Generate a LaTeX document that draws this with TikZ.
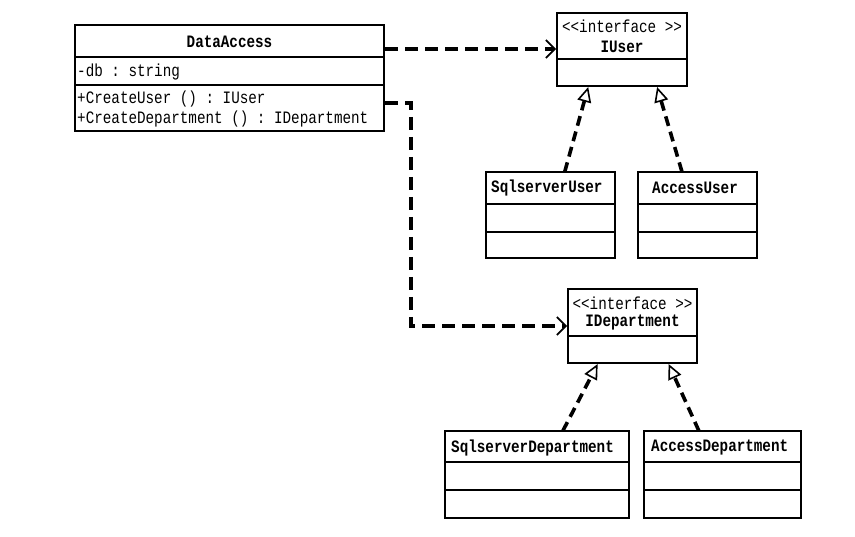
\documentclass[tikz,border=0pt]{standalone}
\usepackage{fontspec}
\setmonofont{Liberation Mono}
\usetikzlibrary{arrows.meta,calc}
\newcommand\sqz[1]{\scalebox{0.82}[1]{#1}}
\begin{document}
\begin{tikzpicture}[x=1pt,y=-1pt,
  cls/.style={draw=black,line width=1.3pt,anchor=north west,inner sep=0pt,outer sep=0pt,fill=white},
  sep/.style={line width=1.3pt},
  txt/.style={font=\ttfamily\fontsize{17.4}{18}\selectfont,inner sep=0pt,anchor=west},
  ttl/.style={font=\ttfamily\bfseries\fontsize{17.4}{18}\selectfont,inner sep=0pt},
  dep/.style={line width=3.4pt,dash pattern=on 13pt off 7pt,-{Straight Barb[length=9pt,width=18pt,line width=1.6pt]}},
  real/.style={line width=3.6pt,dash pattern=on 10pt off 6pt,-{Triangle[open,length=15pt,width=14pt,line width=1.6pt,fill=white]}}
]
\useasboundingbox[fill=white] (0,0) rectangle (855,537);

% DataAccess
\node[cls,minimum width=309pt,minimum height=106pt] (da) at (75,25) {};
\draw[sep] (75,57) -- (384,57);
\draw[sep] (75,85) -- (384,85);
\node[ttl] (daT) at (229.5,42) {\sqz{DataAccess}};
\node[txt] (daA) at (77,72) {\sqz{-db : string}};
\node[txt] (daM1) at (77,99) {\sqz{+CreateUser () : IUser}};
\node[txt] (daM2) at (77,119) {\sqz{+CreateDepartment () : IDepartment}};

% IUser
\node[cls,minimum width=130pt,minimum height=73pt] (iu) at (557,13) {};
\draw[sep] (557,59) -- (687,59);
\node[txt,anchor=center] (iuS) at (622,26) {\sqz{<{}<interface >{}>}};
\node[ttl] (iuT) at (622,47) {\sqz{IUser}};

% SqlserverUser
\node[cls,minimum width=129pt,minimum height=86pt] (su) at (486,172) {};
\draw[sep] (486,204) -- (615,204);
\draw[sep] (486,232) -- (615,232);
\node[ttl,anchor=west] (suT) at (491,188) {\sqz{SqlserverUser}};

% AccessUser
\node[cls,minimum width=119pt,minimum height=86pt] (au) at (638,172) {};
\draw[sep] (638,204) -- (757,204);
\draw[sep] (638,232) -- (757,232);
\node[ttl,anchor=west] (auT) at (652,188) {\sqz{AccessUser}};

% IDepartment
\node[cls,minimum width=129pt,minimum height=74pt] (id) at (568,289) {};
\draw[sep] (568,336) -- (697,336);
\node[txt,anchor=center] (idS) at (632.5,303) {\sqz{<{}<interface >{}>}};
\node[ttl] (idT) at (632.5,323) {\sqz{IDepartment}};

% SqlserverDepartment
\node[cls,minimum width=184pt,minimum height=87pt] (sd) at (445,431) {};
\draw[sep] (445,462) -- (629,462);
\draw[sep] (445,490) -- (629,490);
\node[ttl,anchor=west] (sdT) at (451,448) {\sqz{SqlserverDepartment}};

% AccessDepartment
\node[cls,minimum width=157pt,minimum height=87pt] (ad) at (644,431) {};
\draw[sep] (644,462) -- (801,462);
\draw[sep] (644,490) -- (801,490);
\node[ttl,anchor=west] (adT) at (651,448) {\sqz{AccessDepartment}};

% dependencies
\draw[dep] ($(da.north east)+(1,24)$) -- ($(iu.north west)+(-1,36)$);
\draw[dep] ($(da.north east)+(1,78)$) -- ++(26,0) |- ($(id.north west)+(-1,37)$);

% realizations
\draw[real] ($(su.north west)!0.61!(su.north east)$) -- ($(iu.south west)!0.24!(iu.south east)+(0,1)$);
\draw[real] ($(au.north west)!0.37!(au.north east)$) -- ($(iu.south west)!0.77!(iu.south east)+(0,1)$);
\draw[real] ($(sd.north west)!0.64!(sd.north east)$) -- ($(id.south west)!0.23!(id.south east)+(0,1)$);
\draw[real] ($(ad.north west)!0.35!(ad.north east)$) -- ($(id.south west)!0.78!(id.south east)+(0,1)$);
\end{tikzpicture}
\end{document}
